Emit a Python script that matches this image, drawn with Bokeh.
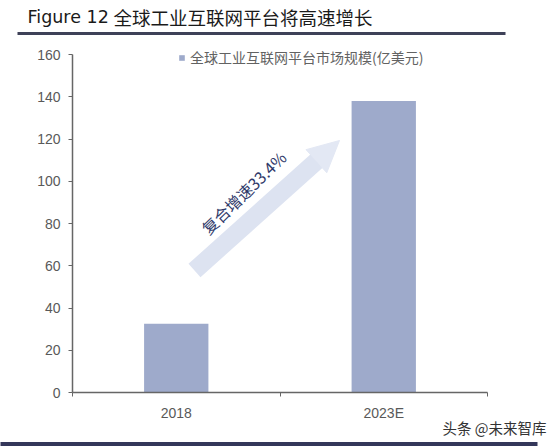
from bokeh.plotting import figure
from bokeh.models import (Range1d, FixedTicker, Label, Arrow, NormalHead, Legend, LegendItem)
from bokeh.core.properties import value
from bokeh.embed import file_html
from bokeh.resources import INLINE

# ---- data ----
categories = ["2018", "2023E"]
market_size = [32.5, 138.0]
series_name = "全球工业互联网平台市场规模(亿美元)"
y_ticks = [0, 20, 40, 60, 80, 100, 120, 140, 160]
title_prefix = "Figure 12"
title_text = "全球工业互联网平台将高速增长"
cagr_text = "复合增速33.4%"
watermark = "头条 @未来智库"

W, H = 557, 446
L, R, T, B = 72, 487, 54, 392  # axis box in page pixels
PPU = (B - T) / 160.0
FT = 40  # frame top (page px)
y_top = (B - FT) / PPU

p = figure(width=W, height=H, output_backend="svg", toolbar_location=None,
           x_range=Range1d(0, len(categories)), y_range=Range1d(0, y_top),
           min_border_left=L, min_border_right=W - R, min_border_top=FT,
           min_border_bottom=H - B)
p.outline_line_color = None
p.grid.visible = False
p.background_fill_color = "white"
p.border_fill_color = "white"

xs = [i + 0.5 for i in range(len(categories))]
bars = p.vbar(x=xs, top=market_size, width=0.31, bottom=0,
              fill_color="#9eaacb", line_color=None)

xa = p.xaxis[0]
xa.ticker = FixedTicker(ticks=xs, minor_ticks=list(range(len(categories) + 1)))
xa.major_label_overrides = {x: c for x, c in zip(xs, categories)}
xa.major_tick_out = 0
xa.major_tick_in = 0
xa.minor_tick_out = 4
xa.minor_tick_in = 0
xa.minor_tick_line_color = "#666666"
xa.axis_line_color = "#666666"
xa.axis_line_width = 1.5
xa.major_label_text_font = "Liberation Sans"
xa.major_label_text_font_size = "14px"
xa.major_label_text_color = "#595959"
xa.major_label_standoff = 8

ya = p.yaxis[0]
ya.ticker = FixedTicker(ticks=y_ticks)
ya.bounds = (0, 160)
ya.minor_tick_line_color = None
ya.major_tick_out = 4
ya.major_tick_in = 0
ya.major_tick_line_color = "#666666"
ya.axis_line_color = "#666666"
ya.axis_line_width = 1.5
ya.major_label_text_font = "Liberation Sans"
ya.major_label_text_font_size = "14px"
ya.major_label_text_color = "#595959"
ya.major_label_standoff = 8


def dx(px):
    return (px - L) / ((R - L) / float(len(categories)))


def dy(py):
    return (B - py) / PPU


legend = Legend(items=[LegendItem(label=series_name, renderers=[bars])],
                location=(106, B - 67), padding=0, margin=0, spacing=0,
                glyph_width=7, glyph_height=7, label_height=14,
                label_standoff=5, border_line_color=None,
                background_fill_alpha=0,
                label_text_font="Noto Sans CJK SC", label_text_font_size="14px",
                label_text_color="#626262")
p.add_layout(legend, "center")

p.add_layout(Arrow(x_start=dx(194), y_start=dy(270), x_end=dx(339), y_end=dy(140),
                   line_color="#dde3f1", line_width=18,
                   end=NormalHead(size=31, fill_color="#e3e8f4", line_color="#e3e8f4"),
                   start=None))
p.add_layout(Label(x=dx(243), y=dy(192), text=cagr_text, angle=0.77,
                   text_align="center", text_baseline="middle",
                   text_font="Noto Sans CJK SC", text_font_size="16px",
                   text_color="#2f3a6a"))

# ---- header / footer drawn outside the frame (unclipped overlay level) ----
p.text(x=[dx(27)], y=[dy(16)], text=[title_prefix], text_align="left",
       text_baseline="middle", text_font=value("DejaVu Sans"),
       text_font_size="17.5px", text_color="#1a1a1a", level="overlay")
p.text(x=[dx(113)], y=[dy(16)], text=[title_text], text_align="left",
       text_baseline="middle", text_font=value("Noto Sans CJK SC"),
       text_font_size="18.5px", text_color="#1a1a1a", level="overlay")
p.segment(x0=[dx(17)], y0=[dy(33)], x1=[dx(505)], y1=[dy(33)],
          line_color="#3e4158", line_width=3, level="overlay")
p.text(x=[dx(442)], y=[dy(427)], text=[watermark], text_align="left",
       text_baseline="middle", text_font=value("Noto Sans CJK SC"),
       text_font_size="14.5px", text_color="#333333", level="overlay")
p.segment(x0=[dx(0)], y0=[dy(443.5)], x1=[dx(537)], y1=[dy(443.5)],
          line_color="#34375a", line_width=4, level="overlay")

open("out.html", "w").write(file_html(p, INLINE))
